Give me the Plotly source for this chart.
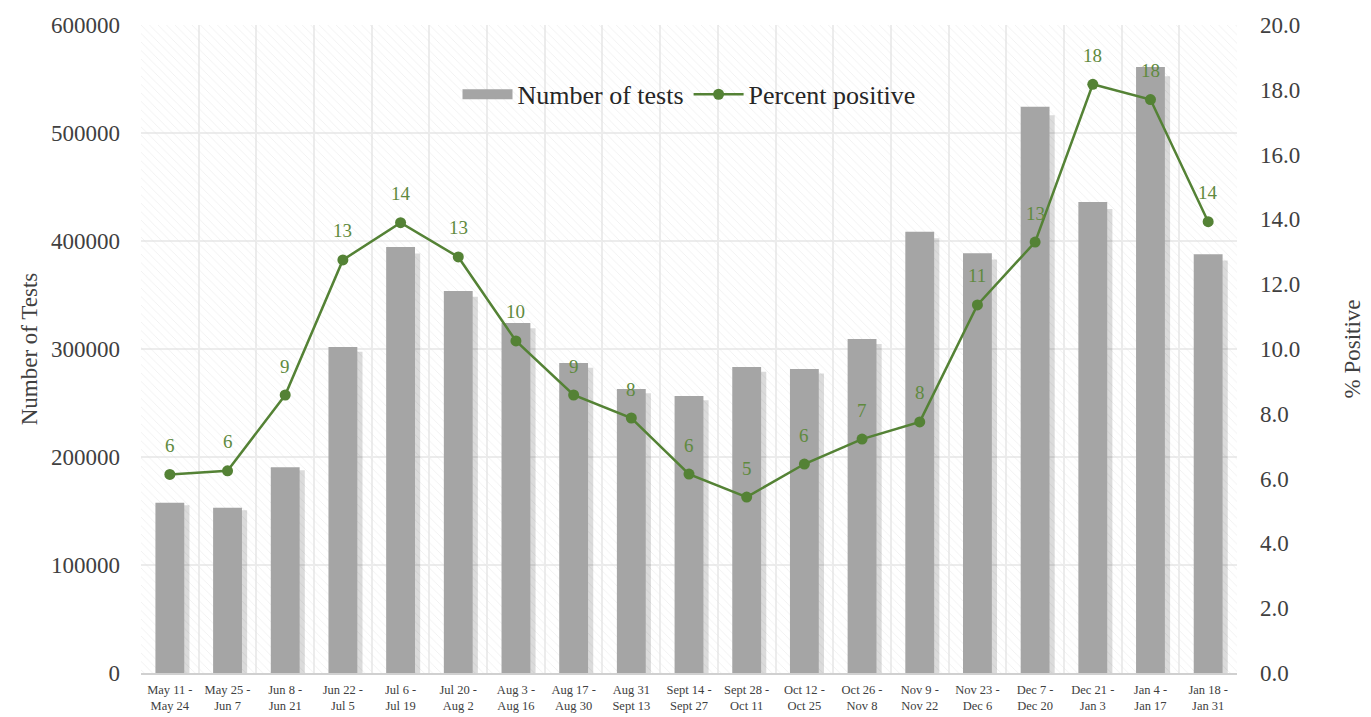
import plotly.graph_objects as go

categories = ["May 11 -<br>May 24", "May 25 -<br>Jun 7", "Jun 8 -<br>Jun 21", "Jun 22 -<br>Jul 5",
              "Jul 6 -<br>Jul 19", "Jul 20 -<br>Aug 2", "Aug 3 -<br>Aug 16", "Aug 17 -<br>Aug 30",
              "Aug 31<br>Sept 13", "Sept 14 -<br>Sept 27", "Sept 28 -<br>Oct 11", "Oct 12 -<br>Oct 25",
              "Oct 26 -<br>Nov 8", "Nov 9 -<br>Nov 22", "Nov 23 -<br>Dec 6", "Dec 7 -<br>Dec 20",
              "Dec 21 -<br>Jan 3", "Jan 4 -<br>Jan 17", "Jan 18 -<br>Jan 31"]

tests = [157700, 153000, 190500, 301900, 394400, 353700, 324000, 287000, 263000, 256500,
         283300, 281500, 309300, 408600, 388600, 524300, 436100, 561000, 387700]

pct_positive = [6.13, 6.24, 8.58, 12.75, 13.9, 12.84, 10.25, 8.58, 7.87, 6.14,
                5.43, 6.45, 7.22, 7.75, 11.36, 13.3, 18.17, 17.7, 13.93]

left_max = 600000
right_max = 20
font = "Liberation Serif"
green = "#548235"
label_green = "#5f8a3e"
n = len(categories)

fig = go.Figure()

# faint hatched background
fig.add_trace(go.Bar(
    x=categories, y=[left_max] * n, width=1,
    marker=dict(color="rgba(0,0,0,0)", line=dict(width=0),
                pattern=dict(shape="\\", fgcolor="#e3e3e3", bgcolor="rgba(0,0,0,0)",
                             size=6, solidity=0.15)),
    showlegend=False, hoverinfo="skip", yaxis="y"))

# soft bar shadow
fig.add_trace(go.Bar(
    x=categories, y=[v * 0.985 for v in tests], width=0.5, offset=-0.16,
    marker=dict(color="rgba(0,0,0,0.14)", line=dict(width=0)),
    showlegend=False, hoverinfo="skip", yaxis="y"))

fig.add_trace(go.Bar(
    x=categories, y=tests, name="Number of tests", width=0.5,
    marker=dict(color="#a5a5a5", line=dict(width=0)), yaxis="y", showlegend=False))

# legend proxy for bars (wide rectangle symbol)
fig.add_trace(go.Scatter(
    x=[None], y=[None], mode="lines", name="Number of tests",
    line=dict(color="#a5a5a5", width=14), yaxis="y", hoverinfo="skip"))

fig.add_trace(go.Scatter(
    x=categories, y=pct_positive, name="Percent positive", yaxis="y2",
    mode="lines+markers",
    line=dict(color=green, width=2.5),
    marker=dict(color=green, size=11)))

for c, v in zip(categories, pct_positive):
    fig.add_annotation(x=c, y=v, xref="x", yref="y2", text=f"{round(v)}",
                       showarrow=False, yshift=29,
                       font=dict(family=font, size=19, color=label_green))

fig.update_layout(
    width=1363, height=709,
    margin=dict(l=133, r=134, t=17, b=44),
    paper_bgcolor="white", plot_bgcolor="white",
    barmode="overlay",
    font=dict(family=font, color="#404040"),
    xaxis=dict(tickson="boundaries", showgrid=True, gridcolor="#ececec", gridwidth=1.5,
               range=[-0.5, n - 0.5], automargin=False, ticklabelstandoff=4,
               ticks="", tickfont=dict(size=12.5, color="#404040"),
               showline=True, linecolor="#d0d0d0", linewidth=1.5, tickangle=0),
    yaxis=dict(range=[0, left_max], dtick=100000, tickformat="d", showgrid=True,
               gridcolor="#ececec", automargin=False,
               gridwidth=1.5, zeroline=False, tickfont=dict(size=23, color="#404040"),
               ticklabelstandoff=20,
               title=dict(text="Number of Tests", font=dict(size=23, color="#404040"), standoff=6)),
    yaxis2=dict(range=[0, right_max], dtick=2, tickformat=".1f", overlaying="y", side="right",
                showgrid=False, zeroline=False, tickfont=dict(size=23, color="#404040"),
                ticklabelstandoff=22, automargin=False,
                title=dict(text="% Positive", font=dict(size=23, color="#404040"), standoff=44)),
    legend=dict(orientation="h", x=0.5, xanchor="center", y=0.893, yanchor="middle",
                font=dict(size=26, color="#262626"), bgcolor="rgba(0,0,0,0)",
                itemwidth=50, traceorder="normal"),
)

fig.write_html("out.html")
